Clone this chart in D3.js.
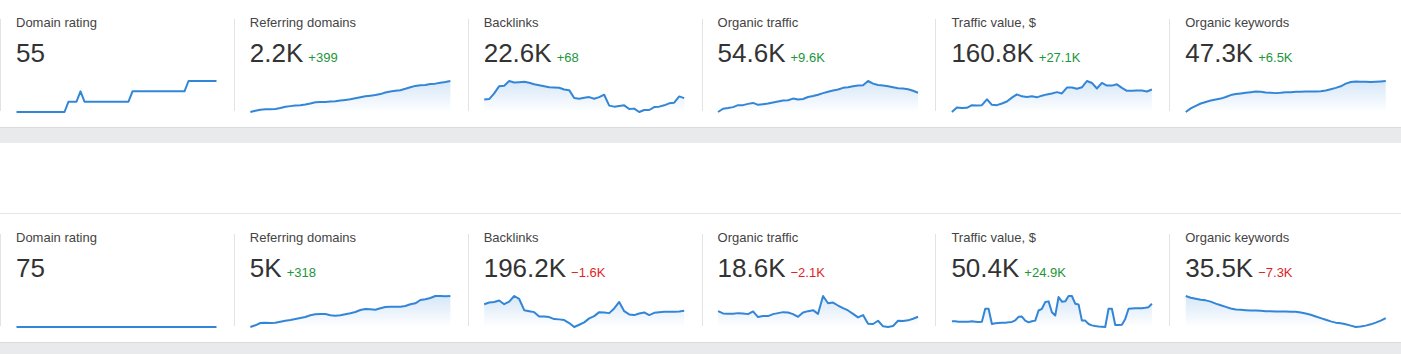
<!DOCTYPE html>
<html>
<head>
<meta charset="utf-8">
<script src="https://cdn.jsdelivr.net/npm/d3@7/dist/d3.min.js"></script>
<style>
  html, body { margin: 0; padding: 0; background: #fff; overflow: hidden; }
  svg { display: block; font-family: "Liberation Sans", Arial, sans-serif; }
</style>
</head>
<body>
<div id="chart"></div>
<script>
// metrics-cards — two rows of six metric cards with sparklines

var TITLES = ['Domain rating', 'Referring domains', 'Backlinks', 'Organic traffic', 'Traffic value, $', 'Organic keywords'];

var TOP_VALUES = ['55', '2.2K', '22.6K', '54.6K', '160.8K', '47.3K'];
var TOP_DELTAS = ['', '+399', '+68', '+9.6K', '+27.1K', '+6.5K'];
var BOTTOM_VALUES = ['75', '5K', '196.2K', '18.6K', '50.4K', '35.5K'];
var BOTTOM_DELTAS = ['', '+318', '\u22121.6K', '\u22122.1K', '+24.9K', '\u22127.3K'];

// Sparkline series (relative heights)
var drTop = [52,52,52,52,52,52,52,52,52,52,52,52,52, 53,53,53, 54, 53,53,53,53,53,53,53,53,53,53,53,53,
  54,54,54,54,54,54,54,54,54,54,54,54,54,54, 55,55,55,55,55,55,55,55];
var refDomainsTop = [0,1.3,2.3,2.7,2.7,3,4,5.3,6,6.7,7,7.7,8.7,10,10.3,10.3,10.7,11,11.7,12.3,13,14,15,16,16.7,
  17.3,18.3,20,21,21.7,22.3,23.7,25.3,26.7,27.3,27.7,28.7,29,30,30.7,31.7];
var backlinksTop = [13,13.3,19,26.3,26.7,31.5,30,30.3,30.7,29.7,28.3,27.3,26.3,25.3,25,24.7,23,22.3,14.3,13.7,14.7,
  15.3,13.7,15.3,17.7,6.7,5.7,6.3,7,3.3,3.7,0.3,2.3,2.3,5.3,5.7,7,9,9.7,16,14.3];
var organicTrafficTop = [0,3.3,4,5,7,7,8.3,9.3,7.3,8,8.7,9.7,10.7,11.7,12,13.7,12.7,13.3,15.3,16.3,17.7,19.3,20.7,
  22,23,24.7,25.3,26.3,27,27.3,31.7,29,27.7,27,26.3,25.3,24.3,24,23.3,21.7,19.7];
var trafficValueTop = [0,4.7,4,4.3,7,6.7,7,13,7.3,7,8.7,10.7,14.7,18,16,15.3,16,15,16.7,18,19,20.3,19,25,25,23.7,
  25.3,31.7,29.7,24,29.7,27,27,28.3,24.7,21.7,21.7,22,22,21,23];
var organicKeywordsTop = [0,3.7,6.3,8.7,10.3,11.7,12.7,13.7,15.3,17.3,18.3,19,19.7,20.3,21,20.7,20,19.7,19.3,19.7,
  20.3,20.3,20.7,20.7,21,21,21,21.3,22,23.3,24.7,26.3,29,30.7,31.3,31,31,30.7,31,31.3,31.7];

var drBottom = [75,75,75,75,75,75,75,75,75,75,75,75,75,75,75,75,75,75,75,75,75];
var refDomainsBottom = [0,1.7,4,4.3,4,4.3,5.3,6.3,7,8,9,10,11.7,12.7,13,13,11.7,11.3,11.7,12.7,13.7,15,17,18,17.7,
  17.3,18.7,20,20.3,20.3,20.3,21,22.7,23.7,27,27.7,29,31,31,30.7,31];
var backlinksBottom = [23,24.7,25.3,26.7,23,25.7,31.3,28.3,17,16,15,10.7,10.7,10,8,7.7,7,4,0,2.3,4.7,8.7,11,15,
  14.7,14,18.7,25.3,16,12.7,12,13.7,14.7,12,14.3,15,15.3,15.3,15.3,15.7,16.3];
var organicTrafficBottom = [16,13.7,13.3,13.3,14,13.7,13,15.7,10,11,11,13,14,15,14.7,13,10.3,14.7,16,17,13.3,31.3,
  24,24.7,21.7,19,16.7,13.3,9.7,12,3.3,3,6.3,0.7,0,1,6.3,6,6.7,8.3,10.3];
var trafficValueBottom = [6.3,6.3,6,6,6,6,6.3,6,5.7,6, 18.7,18.7,3.7,4.3,4.7,5,5,5.3,5.7,7.3,
  10.7,11,7,5.3,6.3,7,17,18.7,25.3,26, 15.3,12,30.3,25.7,26,31.3,31.3,23.7,23,7,
  7,3.7,2.3,1.7,1.3,1,0.7,18.7,18.7,2.7, 2.7,3,8.7,18.7,19,19.3,19.3,19.3,19.7,20.3,23.7];
var organicKeywordsBottom = [31.7,30,29,28,27.3,26,24,22.3,20.7,19,18,17.7,17.3,17,17,16.7,16.3,16.3,16,16,16,
  15.7,15.7,15,14,12.7,11,9.3,7.7,6,4.7,4,3,1.7,0.3,0.7,1.7,3,4.7,6.7,9.3];

var W = 1401, H = 354;
var PANEL_W = 233.85;
var LINE_COLOR = '#3386d7';
var GREEN = '#21963a';
var RED = '#de1f26';

var rows = [
  { y: 0,   values: TOP_VALUES,    deltas: TOP_DELTAS,
    series: [drTop, refDomainsTop, backlinksTop, organicTrafficTop, trafficValueTop, organicKeywordsTop] },
  { y: 215, values: BOTTOM_VALUES, deltas: BOTTOM_DELTAS,
    series: [drBottom, refDomainsBottom, backlinksBottom, organicTrafficBottom, trafficValueBottom, organicKeywordsBottom] }
];

var svg = d3.select('#chart').append('svg')
  .attr('width', W)
  .attr('height', H);

// Area gradient
var grad = svg.append('defs').append('linearGradient')
  .attr('id', 'sparkFill')
  .attr('x1', 0).attr('y1', 0).attr('x2', 0).attr('y2', 1);
grad.append('stop').attr('offset', '0%').attr('stop-color', LINE_COLOR).attr('stop-opacity', 0.2);
grad.append('stop').attr('offset', '100%').attr('stop-color', LINE_COLOR).attr('stop-opacity', 0);

// Grey bands between the cards
svg.append('rect').attr('x', 0).attr('y', 127).attr('width', W).attr('height', 16).attr('fill', '#e9eaec');
svg.append('line').attr('x1', 0).attr('x2', W).attr('y1', 127.5).attr('y2', 127.5).attr('stroke', '#dadbdd');
svg.append('line').attr('x1', 0).attr('x2', W).attr('y1', 213.5).attr('y2', 213.5).attr('stroke', '#e6e6e6');
svg.append('rect').attr('x', 0).attr('y', 342).attr('width', W).attr('height', 12).attr('fill', '#e9eaec');
svg.append('line').attr('x1', 0).attr('x2', W).attr('y1', 342.5).attr('y2', 342.5).attr('stroke', '#dadbdd');

rows.forEach(function(row){
  var g = svg.append('g').attr('transform', 'translate(0,' + row.y + ')');

  TITLES.forEach(function(title, i){
    var px = i * PANEL_W;

    // separator
    g.append('line')
      .attr('x1', Math.round(px) + 0.5).attr('x2', Math.round(px) + 0.5)
      .attr('y1', 19).attr('y2', 111)
      .attr('stroke', '#e3e3e3');

    g.append('text')
      .attr('x', px + 16).attr('y', 27)
      .attr('font-size', 13)
      .attr('fill', '#444')
      .text(title);

    var big = g.append('text')
      .attr('x', px + 16).attr('y', 62)
      .attr('font-size', 26)
      .attr('fill', '#333')
      .text(row.values[i]);

    var delta = row.deltas[i];
    if(delta){
      var len = big.node().getComputedTextLength();
      g.append('text')
        .attr('x', px + 16 + len + 5).attr('y', 62)
        .attr('font-size', 13)
        .attr('fill', delta.charAt(0) === '+' ? GREEN : RED)
        .text(delta);
    }

    // sparkline
    var data = row.series[i];
    var ext = d3.extent(data);
    if(ext[0] === ext[1]) ext = [ext[0], ext[0] + 1];
    var x = d3.scaleLinear().domain([0, data.length - 1]).range([px + 16.5, px + 216.5]);
    var y = d3.scaleLinear().domain(ext).range([112, 81]);

    if(i > 0){
      g.append('path')
        .datum(data)
        .attr('fill', 'url(#sparkFill)')
        .attr('d', d3.area()
          .x(function(d, j){ return x(j); })
          .y0(112)
          .y1(function(d){ return y(d); }));
    }

    g.append('path')
      .datum(data)
      .attr('fill', 'none')
      .attr('stroke', LINE_COLOR)
      .attr('stroke-width', 2)
      .attr('stroke-linejoin', 'round')
      .attr('d', d3.line()
        .x(function(d, j){ return x(j); })
        .y(function(d){ return y(d); }));
  });
});
</script>
</body>
</html>
